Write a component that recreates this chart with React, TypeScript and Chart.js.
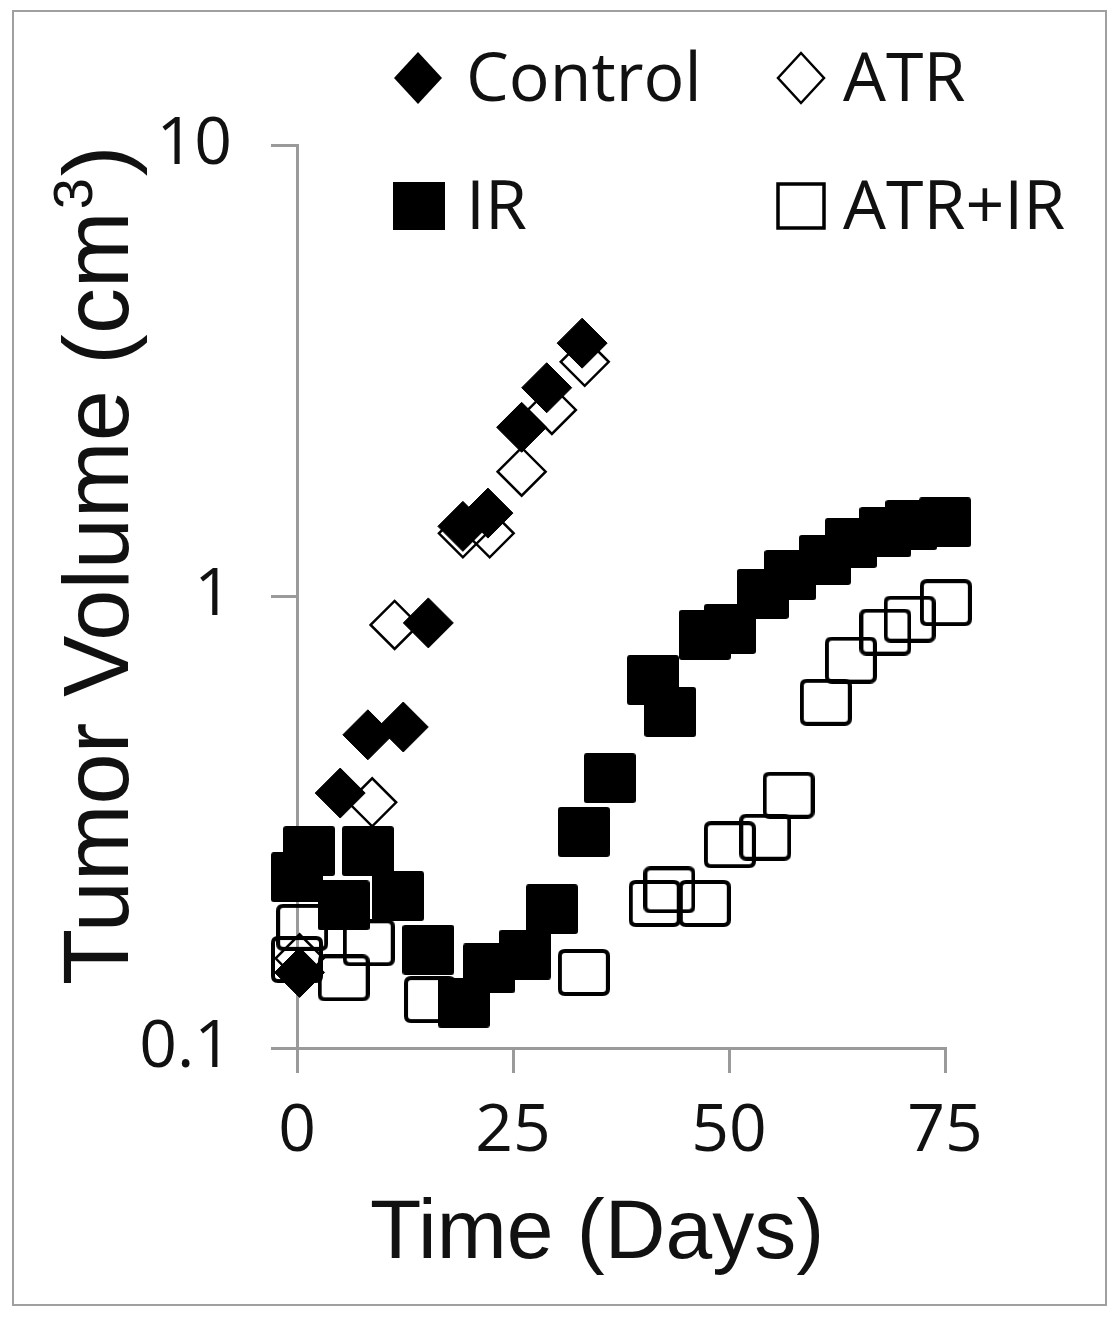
import React, { useEffect, useRef } from "react";
import { Chart, registerables } from "chart.js";

Chart.register(...registerables);

// ---- data ----
const seriesNames = ["Control", "ATR", "IR", "ATR+IR"];

const controlDays = [0.3, 5, 8.2, 12.3, 15.2, 19.2, 22.1, 26, 28.9, 33];
const controlVolume = [0.147, 0.367, 0.494, 0.514, 0.874, 1.43, 1.53, 2.37, 2.9, 3.64];

const atrDays = [0.3, 8.7, 11.3, 19.2, 22.3, 26, 29.5, 33.3];
const atrVolume = [0.158, 0.35, 0.865, 1.38, 1.38, 1.89, 2.59, 3.31];

const irDays = [0, 1.4, 5.4, 8.2, 11.7, 15.2, 19.3, 22.2, 26.4, 29.5, 33.2, 36.2, 41.2, 43.2, 47.2, 50.1, 53.9, 57.1, 61.1, 64.1, 68.1, 71.1, 75];
const irVolume = [0.239, 0.273, 0.207, 0.273, 0.217, 0.165, 0.126, 0.15, 0.161, 0.203, 0.301, 0.396, 0.653, 0.555, 0.822, 0.847, 1.013, 1.116, 1.205, 1.313, 1.39, 1.44, 1.46];

const atrIrDays = [0, 0.6, 5.4, 8.3, 15.4, 33.2, 41.4, 43.1, 47.2, 50.1, 54.2, 56.9, 61.2, 64.1, 68.1, 70.9, 75.1];
const atrIrVolume = [0.157, 0.185, 0.143, 0.171, 0.128, 0.147, 0.209, 0.224, 0.209, 0.282, 0.293, 0.363, 0.583, 0.723, 0.834, 0.891, 0.969];

const xTickValues = [0, 25, 50, 75];
const yTickValues = [0.1, 1, 10];
const xTitle = "Time (Days)";
const yTitleMain = "Tumor Volume (cm";
const yTitleSup = "3";
const yTitleEnd = ")";

const toPoints = (xs: number[], ys: number[]) => xs.map((x, i) => ({ x, y: ys[i] }));

function roundRectPath(ctx: CanvasRenderingContext2D, x: number, y: number, w: number, h: number, r: number) {
  ctx.beginPath();
  ctx.moveTo(x + r, y);
  ctx.lineTo(x + w - r, y);
  ctx.quadraticCurveTo(x + w, y, x + w, y + r);
  ctx.lineTo(x + w, y + h - r);
  ctx.quadraticCurveTo(x + w, y + h, x + w - r, y + h);
  ctx.lineTo(x + r, y + h);
  ctx.quadraticCurveTo(x, y + h, x, y + h - r);
  ctx.lineTo(x, y + r);
  ctx.quadraticCurveTo(x, y, x + r, y);
  ctx.closePath();
}

function makeSquare(w: number, h: number, filled: boolean, lw: number, r: number) {
  const c = document.createElement("canvas");
  c.width = w;
  c.height = h;
  const ctx = c.getContext("2d")!;
  if (filled) {
    roundRectPath(ctx, 0, 0, w, h, r);
    ctx.fillStyle = "#000";
    ctx.fill();
  } else {
    roundRectPath(ctx, lw / 2, lw / 2, w - lw, h - lw, r);
    ctx.lineWidth = lw;
    ctx.strokeStyle = "#000";
    ctx.stroke();
  }
  return c;
}

function diamond(ctx: CanvasRenderingContext2D, cx: number, cy: number, rx: number, ry: number) {
  ctx.beginPath();
  ctx.moveTo(cx, cy - ry);
  ctx.lineTo(cx + rx, cy);
  ctx.lineTo(cx, cy + ry);
  ctx.lineTo(cx - rx, cy);
  ctx.closePath();
}

const TEXT = "#111";

const decorPlugin = {
  id: "decor",
  beforeDraw(chart: any) {
    const ctx = chart.ctx as CanvasRenderingContext2D;
    ctx.save();
    ctx.fillStyle = "#fff";
    ctx.fillRect(0, 0, chart.width, chart.height);
    ctx.strokeStyle = "#a0a0a0";
    ctx.lineWidth = 2;
    ctx.strokeRect(13, 11, 1093, 1294);
    ctx.restore();
  },
  afterDraw(chart: any) {
    const ctx = chart.ctx as CanvasRenderingContext2D;
    ctx.save();
    // axis titles
    ctx.fillStyle = TEXT;
    ctx.font = '84px "Liberation Sans", Arial, sans-serif';
    ctx.textAlign = "center";
    ctx.textBaseline = "alphabetic";
    ctx.fillText(xTitle, 597, 1258);

    ctx.save();
    ctx.translate(128, 985);
    ctx.rotate(-Math.PI / 2);
    ctx.textAlign = "left";
    ctx.font = '92px "Liberation Sans", Arial, sans-serif';
    ctx.fillText(yTitleMain, 0, 0);
    const w1 = ctx.measureText(yTitleMain).width;
    ctx.font = '56px "Liberation Sans", Arial, sans-serif';
    ctx.fillText(yTitleSup, w1 + 2, -36);
    const w2 = ctx.measureText(yTitleSup).width;
    ctx.font = '92px "Liberation Sans", Arial, sans-serif';
    ctx.fillText(yTitleEnd, w1 + w2 + 4, 0);
    ctx.restore();

    // legend
    ctx.font = '68px "Open Sans", sans-serif';
    ctx.textAlign = "left";
    ctx.fillStyle = TEXT;
    // Control
    diamond(ctx, 418, 78, 24, 26);
    ctx.fillStyle = "#000";
    ctx.fill();
    ctx.fillStyle = TEXT;
    ctx.fillText(seriesNames[0], 466, 101);
    // ATR
    diamond(ctx, 801, 78, 23, 25);
    ctx.lineWidth = 2.5;
    ctx.strokeStyle = "#000";
    ctx.stroke();
    ctx.fillText(seriesNames[1], 843, 101);
    // IR
    ctx.fillStyle = "#000";
    ctx.fillRect(393, 182, 52, 48);
    ctx.fillStyle = TEXT;
    ctx.fillText(seriesNames[2], 466, 229);
    // ATR+IR
    ctx.lineWidth = 3.5;
    ctx.strokeRect(778, 184, 46, 44);
    ctx.fillText(seriesNames[3], 843, 229);
    ctx.restore();
  },
};

export default function App() {
  const ref = useRef<HTMLCanvasElement | null>(null);

  useEffect(() => {
    if (!ref.current) return;
    const irSquare = makeSquare(52, 50, true, 0, 3);
    const openSquare = makeSquare(52, 47, false, 4, 5);

    const chart = new Chart(ref.current, {
      type: "scatter",
      data: {
        datasets: [
          {
            label: seriesNames[0],
            data: toPoints(controlDays, controlVolume),
            pointStyle: "rectRot",
            pointRadius: 25,
            backgroundColor: "#000",
            borderColor: "#000",
            borderWidth: 1,
            clip: false,
          },
          {
            label: seriesNames[2],
            data: toPoints(irDays, irVolume),
            pointStyle: irSquare,
            pointRadius: 25,
            clip: false,
          },
          {
            label: seriesNames[1],
            data: toPoints(atrDays, atrVolume),
            pointStyle: "rectRot",
            pointRadius: 24,
            backgroundColor: "rgba(0,0,0,0)",
            borderColor: "#000",
            borderWidth: 2.5,
            clip: false,
          },
          {
            label: seriesNames[3],
            data: toPoints(atrIrDays, atrIrVolume),
            pointStyle: openSquare,
            pointRadius: 25,
            clip: false,
          },
        ],
      },
      options: {
        animation: false,
        responsive: false,
        devicePixelRatio: 1,
        layout: { padding: { top: 145, right: 173, bottom: 0, left: 0 } },
        plugins: { legend: { display: false }, tooltip: { enabled: false }, title: { display: false } },
        scales: {
          x: {
            type: "linear",
            min: 0,
            max: 75,
            afterFit: (s: any) => {
              s.height = 1317 - 1048;
            },
            afterBuildTicks: (s: any) => {
              s.ticks = xTickValues.map((v) => ({ value: v }));
            },
            grid: {
              display: true,
              drawOnChartArea: false,
              drawTicks: true,
              tickLength: 25,
              color: "#9a9a9a",
              lineWidth: 3,
            },
            border: { display: true, color: "#9a9a9a", width: 3 },
            ticks: {
              color: TEXT,
              padding: 20,
              maxRotation: 0,
              font: { family: '"Open Sans", sans-serif', size: 66 },
              callback: (v: any) => String(v),
            },
          },
          y: {
            type: "logarithmic",
            min: 0.1,
            max: 10,
            afterFit: (s: any) => {
              s.width = 297;
            },
            afterBuildTicks: (s: any) => {
              s.ticks = yTickValues.map((v) => ({ value: v }));
            },
            grid: {
              display: true,
              drawOnChartArea: false,
              drawTicks: true,
              tickLength: 26,
              color: "#9a9a9a",
              lineWidth: 3,
            },
            border: { display: true, color: "#9a9a9a", width: 3 },
            ticks: {
              color: TEXT,
              padding: 39,
              font: { family: '"Open Sans", sans-serif', size: 66 },
              callback: (v: any) => (Number(v) === 0.1 ? "0.1" : String(Number(v))),
            },
          },
        },
      },
      plugins: [decorPlugin],
    } as any);

    return () => chart.destroy();
  }, []);

  return (
    <div style={{ position: "fixed", left: 0, top: 0, width: 1118, height: 1317, background: "#fff" }}>
      <canvas ref={ref} width={1118} height={1317} style={{ display: "block", width: 1118, height: 1317 }} />
    </div>
  );
}
